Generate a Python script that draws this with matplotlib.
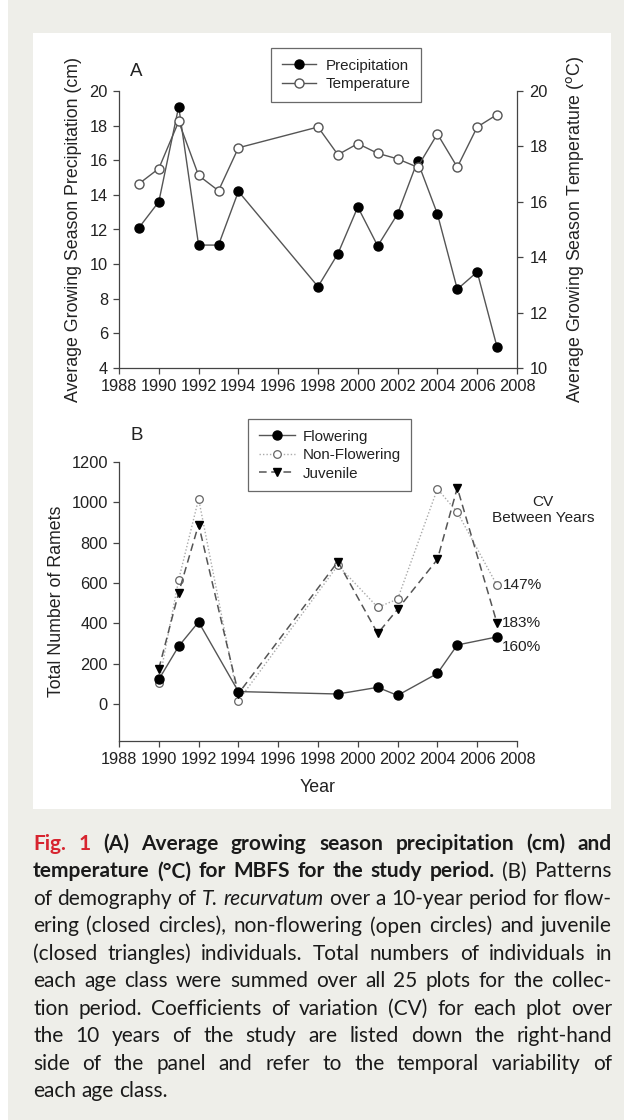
import matplotlib
matplotlib.use('Agg')
import matplotlib.pyplot as plt
from matplotlib.patches import Rectangle

# ---------------- data ----------------
years_a = [1989, 1990, 1991, 1992, 1993, 1994, 1998, 1999, 2000, 2001, 2002, 2003, 2004, 2005, 2006, 2007]
precip = [12.1, 13.6, 19.1, 11.1, 11.1, 14.2, 8.7, 10.6, 13.3, 11.05, 12.9, 15.95, 12.9, 8.55, 9.55, 5.2]
temp = [16.65, 17.2, 18.9, 16.95, 16.4, 17.95, 18.7, 17.7, 18.1, 17.75, 17.55, 17.25, 18.45, 17.25, 18.7, 19.15]

years_b = [1990, 1991, 1992, 1994, 1999, 2001, 2002, 2004, 2005, 2007]
flowering = [122, 287, 407, 62, 50, 83, 43, 152, 293, 333]
nonflowering = [103, 617, 1017, 17, 688, 480, 520, 1067, 951, 588]
juvenile = [175, 553, 890, 52, 706, 350, 470, 717, 1072, 400]

cv_labels = ["147%", "183%", "160%"]
xticks = list(range(1988, 2009, 2))
yticks_precip = [4, 6, 8, 10, 12, 14, 16, 18, 20]
yticks_temp = [10, 12, 14, 16, 18, 20]
yticks_b = [0, 200, 400, 600, 800, 1000, 1200]

caption_lines = [
    [("Fig. 1", "red"), ("(A) Average growing season precipitation (cm) and", "bold")],
    [("temperature (°C) for MBFS for the study period.", "bold"), ("(B) Patterns", "regular")],
    [("of demography of", "regular"), ("T. recurvatum", "italic"), ("over a 10-year period for flow-", "regular")],
    [("ering (closed circles), non-flowering (open circles) and juvenile", "regular")],
    [("(closed triangles) individuals. Total numbers of individuals in", "regular")],
    [("each age class were summed over all 25 plots for the collec-", "regular")],
    [("tion period. Coefficients of variation (CV) for each plot over", "regular")],
    [("the 10 years of the study are listed down the right-hand", "regular")],
    [("side of the panel and refer to the temporal variability of", "regular")],
    [("each age class.", "regular")],
]

# ---------------- figure ----------------
W, H, DPI = 624, 1120, 100
fig = plt.figure(figsize=(W / DPI, H / DPI), dpi=DPI)
fig.patch.set_facecolor('white')
plt.rcParams['font.family'] = ['Liberation Sans', 'DejaVu Sans']

def fx(px):
    return px / W

def fy(py):
    return 1 - py / H

fig.patches.append(Rectangle((fx(8), 0), 1 - fx(8), 1, transform=fig.transFigure,
                             facecolor='#eeeee9', edgecolor='none', zorder=-10))
fig.patches.append(Rectangle((fx(33), fy(809)), fx(611 - 33), (809 - 33) / H,
                             transform=fig.transFigure, facecolor='white',
                             edgecolor='none', zorder=-9))

TXT = '#222222'
AX = '#444444'
LINEC = '#555555'
TFS = 11.8     # tick labels
LFS = 12.8     # axis labels
GFS = 10.9     # legend / annotations

def style_ax(ax):
    ax.set_facecolor('none')
    for s in ax.spines.values():
        s.set_color(AX)
        s.set_linewidth(0.9)
    ax.tick_params(direction='out', length=4, width=0.9, colors=AX,
                   labelcolor=TXT, labelsize=TFS, pad=4)

# ---------------- panel A ----------------
axA = fig.add_axes([fx(119), fy(368), fx(517 - 119), (368 - 91) / H])
style_ax(axA)
axA.spines['top'].set_visible(False)
axA.spines['right'].set_visible(False)
pl, = axA.plot(years_a, precip, color=LINEC, lw=1.0, marker='o', ms=6.5,
               mfc='black', mec='black', zorder=3)
axA.set_xlim(1988, 2008)
axA.set_ylim(4, 20)
axA.set_xticks(xticks)
axA.set_yticks(yticks_precip)

axT = axA.twinx()
style_ax(axT)
axT.spines['top'].set_visible(False)
axT.spines['left'].set_visible(False)
axT.spines['bottom'].set_visible(False)
tl, = axT.plot(years_a, temp, color=LINEC, lw=1.0, marker='o', ms=6.5,
               mfc='white', mec=LINEC, mew=1.0, zorder=3)
axT.set_ylim(10, 20)
axT.set_yticks(yticks_temp)
axT.set_xlim(1988, 2008)
axT.tick_params(axis='y', pad=5)

fig.text(fx(74), fy(229), 'Average Growing Season Precipitation (cm)', fontsize=LFS,
         color=TXT, rotation=90, ha='center', va='center')
fig.text(fx(575), fy(229), r'Average Growing Season Temperature ($^{\rm o}$C)',
         fontsize=LFS, color=TXT, rotation=90, ha='center', va='center')
fig.text(fx(130), fy(72), 'A', fontsize=13.5, color=TXT, va='center', ha='left')

legA = fig.legend([pl, tl], ['Precipitation', 'Temperature'], loc='upper left',
                  bbox_to_anchor=(fx(271), fy(48)), bbox_transform=fig.transFigure,
                  frameon=True, fancybox=False, fontsize=GFS, handlelength=2.3,
                  handletextpad=0.6, borderpad=0.7, labelspacing=0.3,
                  borderaxespad=0)
legA.get_frame().set_edgecolor(AX)
legA.get_frame().set_linewidth(0.9)
for t in legA.get_texts():
    t.set_color(TXT)

# ---------------- panel B ----------------
axB = fig.add_axes([fx(119), fy(741), fx(517 - 119), (741 - 462) / H])
style_ax(axB)
axB.spines['top'].set_visible(False)
axB.spines['right'].set_visible(False)
fl, = axB.plot(years_b, flowering, color=LINEC, lw=1.0, marker='o', ms=6.5,
               mfc='black', mec='black', zorder=4)
nl, = axB.plot(years_b, nonflowering, color='#aaaaaa', lw=1.0, ls=(0, (1, 1.5)),
               marker='o', ms=5.5, mfc='white', mec='#666666', mew=0.9, zorder=3)
jl, = axB.plot(years_b, juvenile, color='#555555', lw=1.1, ls=(0, (5, 3)),
               marker='v', ms=6, mfc='black', mec='black', zorder=3)
axB.set_xlim(1988, 2008)
axB.set_ylim(-183, 1200)
axB.set_xticks(xticks)
axB.set_yticks(yticks_b)

fig.text(fx(57), fy(601), 'Total Number of Ramets', fontsize=LFS, color=TXT,
         rotation=90, ha='center', va='center')
fig.text(fx(318), fy(788), 'Year', fontsize=LFS, color=TXT, ha='center', va='center')
fig.text(fx(130), fy(435), 'B', fontsize=13.5, color=TXT, va='center', ha='left')

legB = fig.legend([fl, nl, jl], ['Flowering', 'Non-Flowering', 'Juvenile'],
                  loc='upper left', bbox_to_anchor=(fx(248), fy(419)),
                  bbox_transform=fig.transFigure, frameon=True, fancybox=False,
                  fontsize=GFS, handlelength=2.4, handletextpad=0.5, borderpad=0.7,
                  labelspacing=0.3, borderaxespad=0)
legB.get_frame().set_edgecolor(AX)
legB.get_frame().set_linewidth(0.9)
for t in legB.get_texts():
    t.set_color(TXT)

fig.text(fx(543), fy(510), 'CV\nBetween Years', fontsize=GFS + 0.2, color=TXT,
         ha='center', va='center', linespacing=1.15)
cv_y = [nonflowering[-1], juvenile[-1], flowering[-1]]
cv_off = [(6, 0), (5, 0), (5, -10)]
for lab, yv, (dx, dy) in zip(cv_labels, cv_y, cv_off):
    axB.annotate(lab, xy=(years_b[-1], yv), xytext=(dx, dy), textcoords='offset pixels',
                 fontsize=GFS + 0.2, color=TXT, ha='left', va='center')

# ---------------- caption (justified) ----------------
fig.canvas.draw()
renderer = fig.canvas.get_renderer()
CAP_FONT = ['Lato', 'DejaVu Sans']
BASE_FS = 12.0
left_px, right_px = 33, 612
line_y = [844 + i * 27.45 for i in range(len(caption_lines))]

def make_text(word, style, fs):
    kw = dict(fontsize=fs, family=CAP_FONT, color='#1a1a1a', va='center', ha='left')
    if style == 'red':
        kw.update(weight='bold', color='#d7242f')
    elif style == 'bold':
        kw.update(weight='bold')
    elif style == 'italic':
        kw.update(style='italic')
    return fig.text(0, 0, word, **kw)

def space_width(fs):
    p = make_text('a a', 'regular', fs)
    w1 = p.get_window_extent(renderer).width
    p.set_text('aa')
    w2 = p.get_window_extent(renderer).width
    p.remove()
    return w1 - w2

# find font size so the tightest justified line fits with normal spaces
sw = space_width(BASE_FS)
nat = []
for segs in caption_lines[:-1]:
    ws = []
    for seg, st in segs:
        for w in seg.split(' '):
            t = make_text(w, st, BASE_FS)
            ws.append(t.get_window_extent(renderer).width)
            t.remove()
    nat.append(sum(ws) + sw * (len(ws) - 1))
CAP_FS = BASE_FS * (right_px - left_px) / max(nat)
sw = space_width(CAP_FS)

for i, segs in enumerate(caption_lines):
    words = []
    for seg, st in segs:
        for w in seg.split(' '):
            words.append(make_text(w, st, CAP_FS))
    widths = [t.get_window_extent(renderer).width for t in words]
    last = (i == len(caption_lines) - 1)
    if last or len(words) == 1:
        gap = sw
    else:
        gap = (right_px - left_px - sum(widths)) / (len(words) - 1)
    x = left_px
    for t, w in zip(words, widths):
        t.set_position((fx(x), fy(line_y[i])))
        x += w + gap

fig.savefig('out.png', dpi=DPI, facecolor=fig.get_facecolor())
